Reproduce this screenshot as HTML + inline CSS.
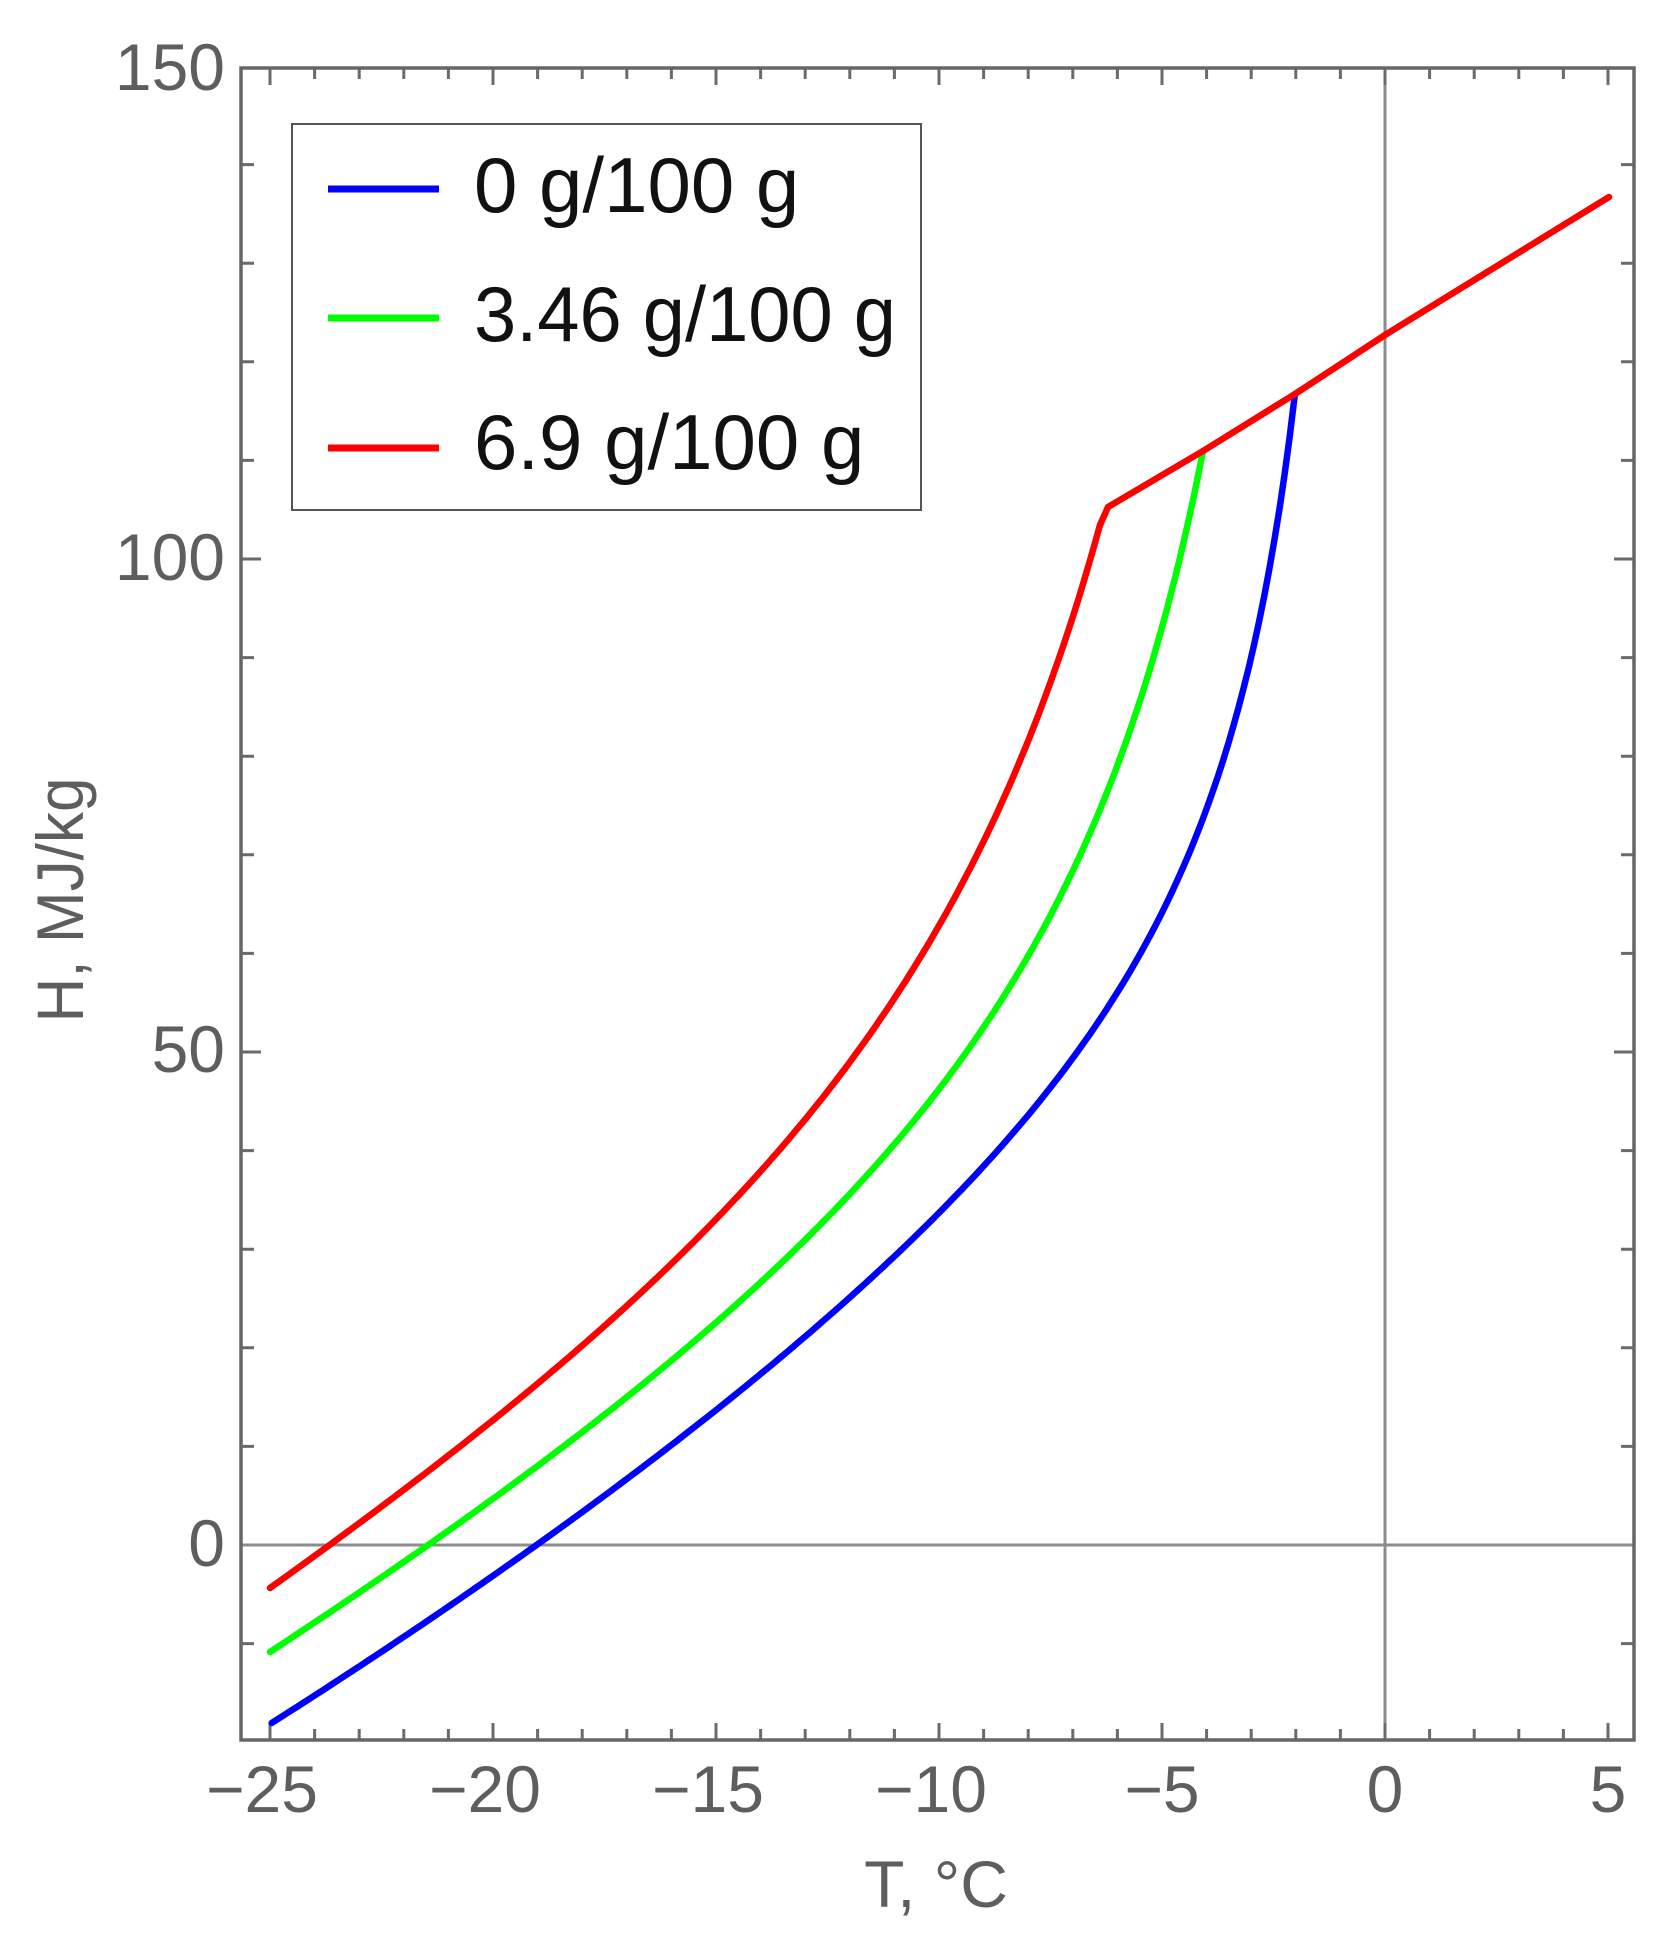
<!DOCTYPE html>
<html><head><meta charset="utf-8"><style>html,body{margin:0;padding:0;background:#fff}svg{display:block}</style></head>
<body>
<svg width="1680" height="1947" viewBox="0 0 1680 1947" xmlns="http://www.w3.org/2000/svg" font-family="Liberation Sans, sans-serif">
<rect width="1680" height="1947" fill="#fff"/>
<line x1="1385" y1="68" x2="1385" y2="1740" stroke="#8c8c8c" stroke-width="3"/>
<line x1="241" y1="1545" x2="1634" y2="1545" stroke="#8c8c8c" stroke-width="3"/>
<g stroke="#6a6a6a" stroke-width="3">
<path d="M270 1740v-17M314.6 1740v-11M359.2 1740v-11M403.8 1740v-11M448.4 1740v-11M493 1740v-17M537.6 1740v-11M582.2 1740v-11M626.8 1740v-11M671.4 1740v-11M716 1740v-17M760.6 1740v-11M805.2 1740v-11M849.8 1740v-11M894.4 1740v-11M939 1740v-17M983.6 1740v-11M1028.2 1740v-11M1072.8 1740v-11M1117.4 1740v-11M1162 1740v-17M1206.6 1740v-11M1251.2 1740v-11M1295.8 1740v-11M1340.4 1740v-11M1385 1740v-17M1429.6 1740v-11M1474.2 1740v-11M1518.8 1740v-11M1563.4 1740v-11M1608 1740v-17"/>
<path d="M270 68v17M314.6 68v11M359.2 68v11M403.8 68v11M448.4 68v11M493 68v17M537.6 68v11M582.2 68v11M626.8 68v11M671.4 68v11M716 68v17M760.6 68v11M805.2 68v11M849.8 68v11M894.4 68v11M939 68v17M983.6 68v11M1028.2 68v11M1072.8 68v11M1117.4 68v11M1162 68v17M1206.6 68v11M1251.2 68v11M1295.8 68v11M1340.4 68v11M1385 68v17M1429.6 68v11M1474.2 68v11M1518.8 68v11M1563.4 68v11M1608 68v17"/>
<path d="M241 1643.6h13M241 1446.4h13M241 1347.8h13M241 1249.2h13M241 1150.6h13M241 1052h20M241 953.4h13M241 854.8h13M241 756.2h13M241 657.6h13M241 559h20M241 460.4h13M241 361.8h13M241 263.2h13M241 164.6h13"/>
<path d="M1634 1643.6h-13M1634 1446.4h-13M1634 1347.8h-13M1634 1249.2h-13M1634 1150.6h-13M1634 1052h-20M1634 953.4h-13M1634 854.8h-13M1634 756.2h-13M1634 657.6h-13M1634 559h-20M1634 460.4h-13M1634 361.8h-13M1634 263.2h-13M1634 164.6h-13"/>
</g>
<rect x="241" y="68" width="1393" height="1672" fill="none" stroke="#666" stroke-width="3.5"/>
<g fill="none" stroke-width="6.5" stroke-linejoin="round" stroke-linecap="round">
<polyline class="sm" stroke="#0000ff" points="271.7,1723 350,1673 416.7,1630 483,1590 550,1545 614.8,1483 672,1439 729.6,1397 787,1355 844.4,1306 901.8,1250 959,1193.6 1016.6,1137.5 1074,1067 1120,997 1160,913 1189,850 1223,758.7 1246,681.5 1269,576 1289,450 1294.9,394"/>
<polyline class="sm" stroke="#00ff00" points="270,1652 350,1600 431.7,1545 483,1506.7 550,1456.7 614.8,1399 672,1353 729.6,1302 787,1249.7 844.4,1193.6 901.8,1123 959,1053 1016.6,976 1074,864 1120,744.6 1148.6,653 1177,541 1203,451"/>
<polyline class="sm" stroke="#ff0000" points="270,1588 330,1545 383.3,1500 456.7,1448 500,1411 557.4,1357 614.8,1305.8 672.2,1254 729.6,1200.6 787,1137.5 844.4,1067.3 901.8,983.1 936.2,927 976.4,842.8 1005.1,779.7 1039.6,688.5 1074,597.3 1100,525"/>
<polyline stroke="#ff0000" points="1100,525 1108,507 1203,451 1295,394 1385,335 1609,197"/>
</g>
<rect x="292" y="124" width="629" height="386" fill="#fff" stroke="#555" stroke-width="2"/>
<line x1="328" y1="189" x2="439" y2="189" stroke="#0000ff" stroke-width="7"/>
<line x1="328" y1="318" x2="439" y2="318" stroke="#00ff00" stroke-width="7"/>
<line x1="328" y1="448" x2="439" y2="448" stroke="#ff0000" stroke-width="7"/>
<g font-size="78" fill="#111">
<text x="474" y="212">0 g/100 g</text>
<text x="474" y="341" textLength="422" lengthAdjust="spacingAndGlyphs">3.46 g/100 g</text>
<text x="474" y="469">6.9 g/100 g</text>
</g>
<g font-size="66" fill="#5e5e5e" text-anchor="end">
<text x="225" y="90">150</text>
<text x="225" y="580">100</text>
<text x="225" y="1072">50</text>
<text x="225" y="1566">0</text>
</g>
<g font-size="66" fill="#5e5e5e" text-anchor="middle">
<text x="262" y="1812">−25</text>
<text x="485" y="1812">−20</text>
<text x="708" y="1812">−15</text>
<text x="931" y="1812">−10</text>
<text x="1162" y="1812">−5</text>
<text x="1385" y="1812">0</text>
<text x="1608" y="1812">5</text>
</g>
<text x="936" y="1907" font-size="66" fill="#5e5e5e" text-anchor="middle">T, °C</text>
<text transform="translate(83,900) rotate(-90)" font-size="66" fill="#5e5e5e" text-anchor="middle" textLength="245" lengthAdjust="spacingAndGlyphs">H, MJ/kg</text>
</svg>
<script>
function solve(A,b){var n=b.length;for(var i=0;i<n;i++){var m=i;for(var r=i+1;r<n;r++)if(Math.abs(A[r][i])>Math.abs(A[m][i]))m=r;var t=A[i];A[i]=A[m];A[m]=t;t=b[i];b[i]=b[m];b[m]=t;for(var r=i+1;r<n;r++){var f=A[r][i]/A[i][i];for(var c=i;c<n;c++)A[r][c]-=f*A[i][c];b[r]-=f*b[i];}}var x=new Array(n);for(var i=n-1;i>=0;i--){var s=b[i];for(var c=i+1;c<n;c++)s-=A[i][c]*x[c];x[i]=s/A[i][i];}return x;}
function basis(T){return [1,T,T*T,1/Math.abs(T)];}
document.querySelectorAll('polyline.sm').forEach(function(pl){
  var p=pl.getAttribute('points').trim().split(/\s+/).map(function(s){return s.split(',').map(Number);});
  var A=[[0,0,0,0],[0,0,0,0],[0,0,0,0],[0,0,0,0]],b=[0,0,0,0];
  p.forEach(function(q){var T=(q[0]-1385)/44.6,H=(1545-q[1])/9.86,f=basis(T);for(var i=0;i<4;i++){b[i]+=f[i]*H;for(var j=0;j<4;j++)A[i][j]+=f[i]*f[j];}});
  var c=solve(A,b);
  function Y(x){var T=(x-1385)/44.6,f=basis(T),H=0;for(var i=0;i<4;i++)H+=c[i]*f[i];return 1545-9.86*H;}
  var x0=p[0][0],x1=p[p.length-1][0],y0=p[0][1],y1=p[p.length-1][1];
  var d0=y0-Y(x0),d1=y1-Y(x1),out=[];
  for(var k=0;k<=200;k++){var x=x0+(x1-x0)*k/200,u=k/200;out.push(x.toFixed(1)+','+(Y(x)+d0*(1-u)+d1*u).toFixed(1));}
  pl.setAttribute('points',out.join(' '));
});
</script>
</body></html>
